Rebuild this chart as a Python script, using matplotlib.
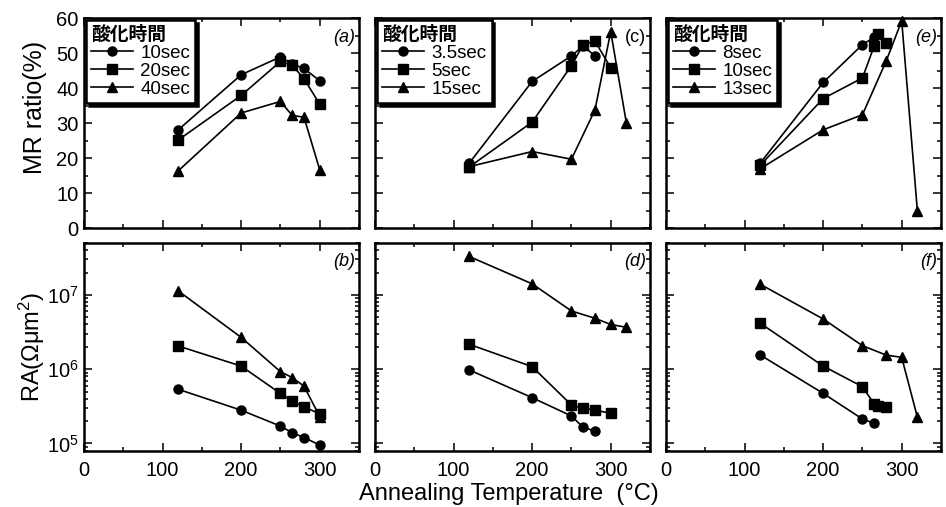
import matplotlib
matplotlib.use("Agg")
import matplotlib.pyplot as plt
from matplotlib.ticker import MultipleLocator, LogLocator, NullFormatter, FixedLocator

plt.rcParams['font.family'] = ['Liberation Sans', 'Noto Sans CJK JP', 'DejaVu Sans']
plt.rcParams['mathtext.default'] = 'regular'

# ---------------- data ----------------
legend_title = "酸化時間"

# (a)/(b)
T_ab = [120, 200, 250, 265, 280, 300]
labels_ab = ["10sec", "20sec", "40sec"]
a_10 = [28.1, 43.8, 48.9, 46.9, 45.6, 42.1]
a_20 = [25.2, 37.9, 47.6, 46.5, 42.7, 35.4]
a_40 = [16.4, 32.9, 36.2, 32.2, 31.7, 16.7]
b_10 = [5.35e5, 2.8e5, 1.71e5, 1.39e5, 1.2e5, 9.5e4]
b_20 = [2.05e6, 1.1e6, 4.7e5, 3.7e5, 3.1e5, 2.5e5]
b_40 = [1.13e7, 2.68e6, 9.25e5, 7.7e5, 5.9e5, 2.3e5]

# (c)/(d)
labels_cd = ["3.5sec", "5sec", "15sec"]
T_c35 = [120, 200, 250, 265, 280]
T_c5 = [120, 200, 250, 265, 280, 300]
T_c15 = [120, 200, 250, 280, 300, 320]
c_35 = [18.6, 41.9, 49.2, 52.0, 49.2]
c_5 = [17.5, 30.3, 46.4, 52.4, 53.4, 45.8]
c_15 = [17.6, 21.9, 19.7, 33.8, 56.1, 30.0]
d_35 = [9.75e5, 4.13e5, 2.34e5, 1.64e5, 1.47e5]
d_5 = [2.16e6, 1.08e6, 3.29e5, 2.96e5, 2.81e5, 2.54e5]
d_15 = [3.29e7, 1.41e7, 6.08e6, 4.84e6, 4.0e6, 3.66e6]

# (e)/(f)
labels_ef = ["8sec", "10sec", "13sec"]
T_e8 = [120, 200, 250, 265]
T_e10 = [120, 200, 250, 265, 270, 280]
T_e13 = [120, 200, 250, 280, 300, 320]
e_8 = [18.6, 41.6, 52.4, 54.5]
e_10 = [18.0, 37.0, 42.9, 52.0, 55.5, 53.0]
e_13 = [17.0, 28.1, 32.4, 47.6, 59.2, 4.8]
f_8 = [1.55e6, 4.72e5, 2.13e5, 1.86e5]
f_10 = [4.15e6, 1.1e6, 5.8e5, 3.39e5, 3.18e5, 3.12e5]
f_13 = [1.39e7, 4.74e6, 2.07e6, 1.55e6, 1.44e6, 2.24e5]

x_ticks = [0, 100, 200, 300]
mr_ticks = [0, 10, 20, 30, 40, 50, 60]
panel_top = ["(a)", "(c)", "(e)"]
panel_bot = ["(b)", "(d)", "(f)"]

# ---------------- figure ----------------
W, H = 946, 507
fig = plt.figure(figsize=(W / 100, H / 100), dpi=100)

lefts = [84, 375, 666]
wpx = 275
top_row = (18, 228.3)
bot_row = (243, 451)

def ax_at(xl, row):
    y0, y1 = row
    return fig.add_axes([xl / W, 1 - y1 / H, wpx / W, (y1 - y0) / H])

markers = ['o', 's', '^']
msizes = [6.5, 7, 7]
FS = 14.5

def style(ax, log=False):
    ax.set_xlim(0, 350)
    ax.xaxis.set_major_locator(FixedLocator(x_ticks))
    ax.xaxis.set_minor_locator(MultipleLocator(50))
    ax.tick_params(which='both', direction='in', top=True, right=True,
                   labelsize=FS, width=1.1)
    ax.tick_params(axis='x', pad=7)
    ax.tick_params(axis='y', pad=4)
    ax.tick_params(which='major', length=5.5)
    ax.tick_params(which='minor', length=3)
    for s in ax.spines.values():
        s.set_linewidth(1.8)
    if log:
        ax.set_yscale('log')
        ax.set_ylim(7.9e4, 5e7)
        ax.yaxis.set_major_locator(LogLocator(base=10, numticks=10))
        ax.yaxis.set_minor_locator(LogLocator(base=10, subs=range(2, 10), numticks=10))
        ax.yaxis.set_minor_formatter(NullFormatter())
    else:
        ax.set_ylim(0, 60)
        ax.yaxis.set_major_locator(FixedLocator(mr_ticks))
        ax.yaxis.set_minor_locator(MultipleLocator(5))

top_sets = [
    ([T_ab, T_ab, T_ab], [a_10, a_20, a_40], labels_ab),
    ([T_c35, T_c5, T_c15], [c_35, c_5, c_15], labels_cd),
    ([T_e8, T_e10, T_e13], [e_8, e_10, e_13], labels_ef),
]
bot_sets = [
    ([T_ab, T_ab, T_ab], [b_10, b_20, b_40]),
    ([T_c35, T_c5, T_c15], [d_35, d_5, d_15]),
    ([T_e8, T_e10, T_e13], [f_8, f_10, f_13]),
]

for i in range(3):
    ax = ax_at(lefts[i], top_row)
    style(ax)
    xs, ys, labs = top_sets[i]
    for j in range(3):
        ax.plot(xs[j], ys[j], color='black', lw=1.2, marker=markers[j],
                ms=msizes[j], mfc='black', mec='black', label=labs[j], clip_on=False)
    ax.set_xticklabels([])
    if i == 0:
        ax.set_ylabel("MR ratio(%)", fontsize=18)
        ax.yaxis.set_label_coords(-0.135, 0.575)
    else:
        ax.set_yticklabels([])
    ax.text(0.985, 0.95, panel_top[i], transform=ax.transAxes, ha='right', va='top',
            fontsize=13, style='italic' if i != 1 else 'normal')
    leg = ax.legend(loc='upper left', bbox_to_anchor=(0.008, 0.99), borderaxespad=0,
                    title=legend_title, fontsize=13.5, frameon=True, fancybox=False,
                    edgecolor='black', handlelength=2.2, handletextpad=0.4,
                    labelspacing=0.05, borderpad=0.28, alignment='left',
                    shadow={'ox': 2, 'oy': -2, 'color': 'black', 'alpha': 1})
    leg.get_title().set_fontsize(13.5)
    leg.get_title().set_fontweight('bold')
    leg.get_frame().set_linewidth(1.8)
    leg.get_frame().set_alpha(1)

    axb = ax_at(lefts[i], bot_row)
    style(axb, log=True)
    xs, ys = bot_sets[i]
    for j in range(3):
        axb.plot(xs[j], ys[j], color='black', lw=1.2, marker=markers[j],
                 ms=msizes[j], mfc='black', mec='black', clip_on=False)
    if i == 0:
        axb.set_ylabel("RA(Ωμm$^2$)", fontsize=17)
        axb.yaxis.set_label_coords(-0.135, 0.5)
    else:
        axb.set_yticklabels([])
    axb.text(0.985, 0.95, panel_bot[i], transform=axb.transAxes, ha='right', va='top',
             fontsize=13, style='italic')

fig.text(509 / W, 1 - 494 / H, "Annealing Temperature  (°C)", ha='center', va='center',
         fontsize=17)

fig.savefig("out.png", dpi=100)
